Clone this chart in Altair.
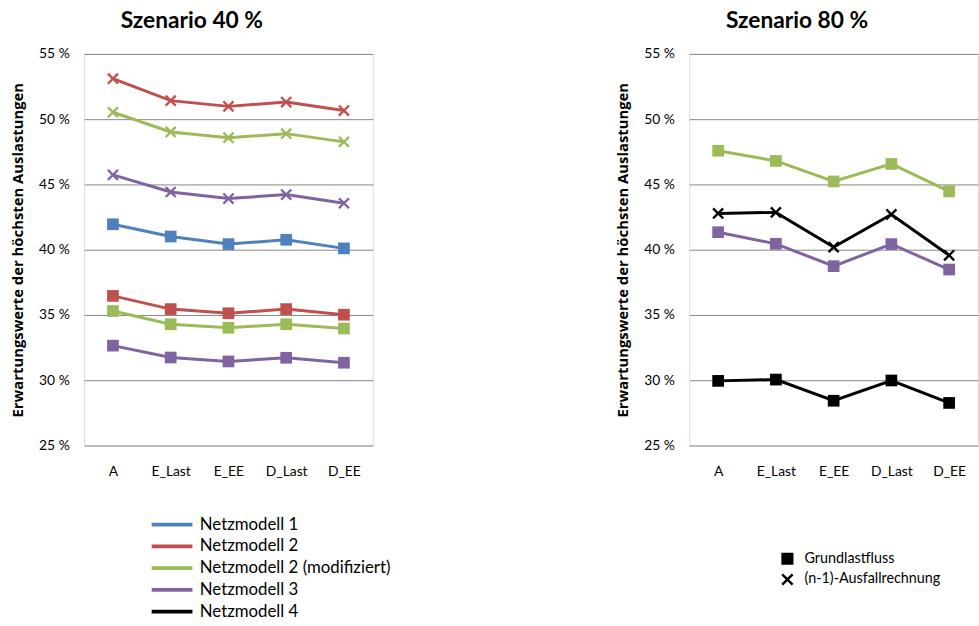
import altair as alt
import pandas as pd

categories = ["A", "E_Last", "E_EE", "D_Last", "D_EE"]
models = ["Netzmodell 1", "Netzmodell 2", "Netzmodell 2 (modifiziert)", "Netzmodell 3", "Netzmodell 4"]
model_colors = ["#4F81BD", "#C0504D", "#9BBB59", "#8064A2", "#000000"]
methods = ["Grundlastfluss", "(n-1)-Ausfallrechnung"]

# Szenario 40 %
s40_nm1_grund = [41.95, 41.01, 40.43, 40.76, 40.10]
s40_nm2_n1 = [53.10, 51.42, 50.98, 51.31, 50.66]
s40_nm2_grund = [36.46, 35.45, 35.13, 35.45, 35.02]
s40_nm2mod_n1 = [50.53, 49.02, 48.58, 48.89, 48.26]
s40_nm2mod_grund = [35.30, 34.29, 34.02, 34.29, 33.96]
s40_nm3_n1 = [45.73, 44.42, 43.92, 44.22, 43.56]
s40_nm3_grund = [32.65, 31.74, 31.44, 31.72, 31.34]

# Szenario 80 %
s80_nm2mod_grund = [47.58, 46.80, 45.23, 46.57, 44.47]
s80_nm4_n1 = [42.78, 42.86, 40.20, 42.70, 39.57]
s80_nm3_grund = [41.34, 40.45, 38.74, 40.43, 38.48]
s80_nm4_grund = [29.95, 30.05, 28.43, 29.98, 28.26]

series40 = [
    ("Netzmodell 1", "Grundlastfluss", s40_nm1_grund),
    ("Netzmodell 2", "(n-1)-Ausfallrechnung", s40_nm2_n1),
    ("Netzmodell 2", "Grundlastfluss", s40_nm2_grund),
    ("Netzmodell 2 (modifiziert)", "(n-1)-Ausfallrechnung", s40_nm2mod_n1),
    ("Netzmodell 2 (modifiziert)", "Grundlastfluss", s40_nm2mod_grund),
    ("Netzmodell 3", "(n-1)-Ausfallrechnung", s40_nm3_n1),
    ("Netzmodell 3", "Grundlastfluss", s40_nm3_grund),
]
series80 = [
    ("Netzmodell 2 (modifiziert)", "Grundlastfluss", s80_nm2mod_grund),
    ("Netzmodell 4", "(n-1)-Ausfallrechnung", s80_nm4_n1),
    ("Netzmodell 3", "Grundlastfluss", s80_nm3_grund),
    ("Netzmodell 4", "Grundlastfluss", s80_nm4_grund),
]


def make_df(series):
    rows = []
    for model, method, vals in series:
        for c, v in zip(categories, vals):
            rows.append({"model": model, "method": method, "cat": c, "value": v, "key": model + "|" + method})
    return pd.DataFrame(rows)


X_PATH = ("M-0.72,-1L0,-0.28L0.72,-1L1,-0.72L0.28,0L1,0.72L0.72,1L0,0.28"
          "L-0.72,1L-1,0.72L-0.28,0L-1,-0.72Z")

FONT = "Lato"
GRID = "#868686"


def panel(df, title, legends):
    color_legend = None
    shape_legend = None
    if legends:
        color_legend = alt.Legend(
            orient="none", legendX=66, legendY=467, title=None,
            symbolType="stroke", symbolSize=1700, symbolStrokeWidth=4,
            clipHeight=18, rowPadding=4, labelLimit=400,
            labelFontSize=17, labelFont=FONT, labelColor="#000000",
            labelOffset=5, symbolOffset=0,
        )
        shape_legend = alt.Legend(
            orient="none", legendX=704, legendY=502, title=None,
            symbolFillColor="#000000", symbolStrokeColor="#000000", symbolSize=150,
            symbolStrokeWidth=0, labelFontSize=14.5, labelFont=FONT, labelColor="#000000",
            clipHeight=17, rowPadding=4, labelOffset=10, labelLimit=400,
        )
    x = alt.X("cat:N", sort=categories, scale=alt.Scale(domain=categories),
              axis=alt.Axis(title=None, labelAngle=0, ticks=False, domain=False, grid=False,
                            labelPadding=19, labelFontSize=14, labelFont=FONT,
                            labelColor="#000000"))
    y = alt.Y("value:Q", scale=alt.Scale(domain=[25, 55], nice=False, zero=False),
              axis=alt.Axis(title="Erwartungswerte der höchsten Auslastungen",
                            values=[25, 30, 35, 40, 45, 50, 55],
                            labelExpr="datum.value + ' %'", ticks=False, domain=False,
                            gridColor=GRID, gridWidth=1, labelPadding=15,
                            labelFontSize=14, labelFont=FONT, labelColor="#000000",
                            titleFont="Open Sans", titleFontSize=15, titleFontWeight="bold",
                            titleColor="#000000", titlePadding=13))
    color = alt.Color("model:N", scale=alt.Scale(domain=models, range=model_colors),
                      legend=color_legend)
    base = alt.Chart(df).encode(x=x, y=y, color=color, detail="key:N")
    lines = base.mark_line(strokeWidth=3)
    pts = base.mark_point(filled=True, opacity=1, size=140).encode(
        shape=alt.Shape("method:N", scale=alt.Scale(domain=methods, range=["square", X_PATH]),
                        legend=shape_legend)
    )
    return alt.layer(lines, pts).properties(
        width=292, height=396,
        title=alt.TitleParams(title, font=FONT, fontSize=23, fontWeight="bold",
                              color="#000000", offset=14, frame="bounds"),
    )


left = panel(make_df(series40), "Szenario 40 %", True)
right = panel(make_df(series80), "Szenario 80 %", False)

chart = alt.hconcat(left, right, spacing=244).properties(
    padding={"left": 10, "top": 6, "right": 0, "bottom": 0},
).configure_view(stroke=GRID, strokeWidth=1.5).configure(background="#ffffff")

chart.save("out.html", embed_options={"renderer": "svg", "actions": False})
